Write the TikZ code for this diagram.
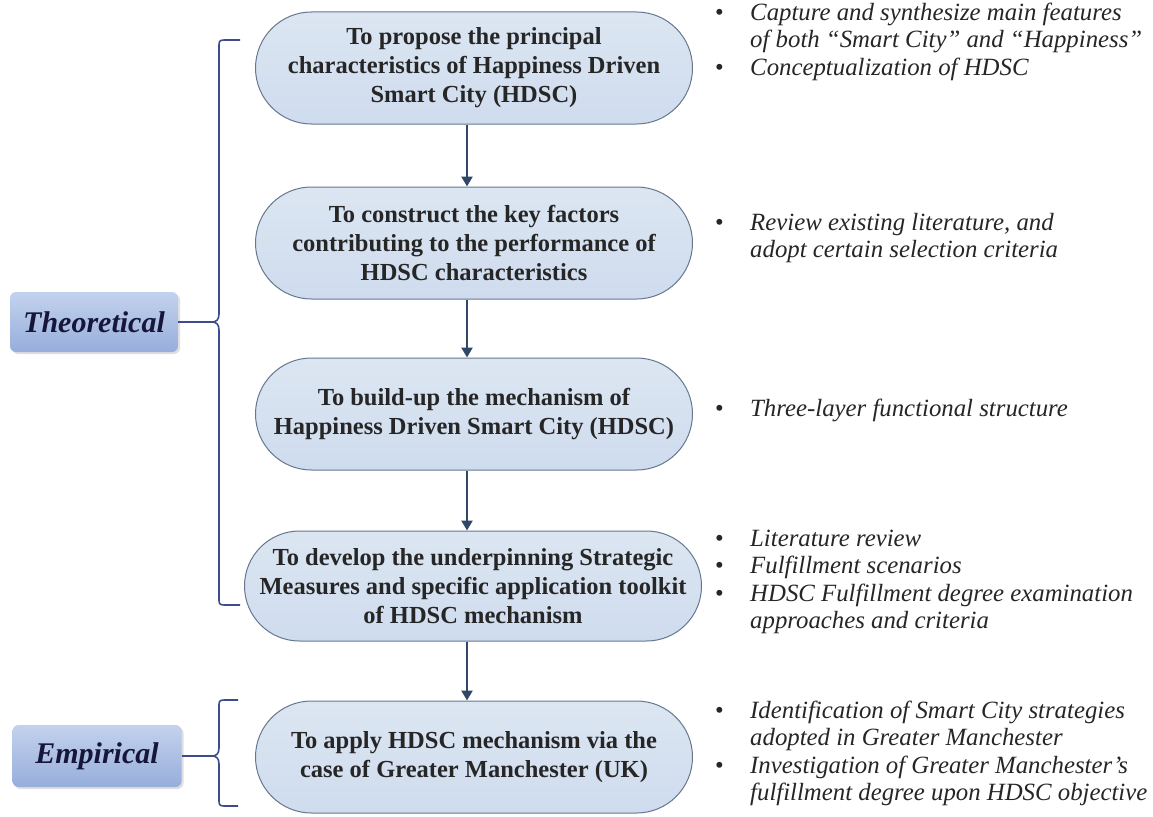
\documentclass[tikz,border=0pt]{standalone}
\usepackage{fontspec}
\setmainfont{Liberation Serif}
\usetikzlibrary{shapes.misc,arrows.meta,shadows,calc}
\definecolor{nodefill}{HTML}{DCE6F2}
\definecolor{nodefillb}{HTML}{CFDCEE}
\definecolor{nodeedge}{HTML}{65788F}
\definecolor{arrowc}{HTML}{2F4868}
\definecolor{bracec}{HTML}{3E4C8E}
\definecolor{boxtop}{HTML}{C3D2EE}
\definecolor{boxbot}{HTML}{97AEDB}
\definecolor{labc}{HTML}{15163A}
\begin{document}
\begin{tikzpicture}[x=1pt,y=-1pt,
  goal/.style={rounded rectangle, draw=nodeedge, line width=1pt, top color=nodefill, bottom color=nodefillb,
    minimum width=437pt, minimum height=112pt, inner sep=0pt, align=center,
    font=\fontsize{24.5}{29}\selectfont\bfseries, text=black!85},
  phase/.style={rounded corners=6pt, top color=boxtop, bottom color=boxbot, inner sep=0pt,
    drop shadow={opacity=0.25, shadow xshift=2pt, shadow yshift=-2pt},
    font=\fontsize{30}{32}\selectfont\bfseries\itshape, text=labc},
  flow/.style={draw=arrowc, line width=2.5pt, -{Triangle[length=10pt,width=11pt]}},
  brace/.style={draw=bracec, line width=1.6pt},
  notes/.style={anchor=north west, inner sep=0pt, align=left, font=\fontsize{24.8}{27.3}\selectfont\itshape, text=black!85}
]
\useasboundingbox (0,0) rectangle (1153,816);
\fill[white] (0,0) rectangle (1153,816);

% goal nodes
\node[goal] (n1) at (474,68) {To propose the principal\\characteristics of Happiness Driven\\Smart City (HDSC)};
\node[goal] (n2) at (474,243) {To construct the key factors\\contributing to the performance of\\HDSC characteristics};
\node[goal] (n3) at (474,414) {To build-up the mechanism of\\Happiness Driven Smart City (HDSC)};
\node[goal, minimum width=457pt, minimum height=110pt] (n4) at (473,586) {To develop the underpinning Strategic\\Measures and specific application toolkit\\of HDSC mechanism};
\node[goal] (n5) at (474,757) {To apply HDSC mechanism via the\\case of Greater Manchester (UK)};

% arrows
\coordinate (ax) at (467,0);
\draw[flow] (n1.south -| ax) -- (n2.north -| ax);
\draw[flow] (n2.south -| ax) -- (n3.north -| ax);
\draw[flow] (n3.south -| ax) -- (n4.north -| ax);
\draw[flow] (n4.south -| ax) -- (n5.north -| ax);

% phase labels
\node[phase, minimum width=168pt, minimum height=60pt] (th) at (94,322) {Theoretical};
\node[phase, minimum width=169pt, minimum height=62pt] (em) at (97,756) {Empirical};

% braces
\coordinate (tcusp) at (212,322);
\coordinate (ttop) at (240,40);
\coordinate (tbot) at (240,605);
\draw[brace] (th.east) -- (tcusp);
\draw[brace] (ttop) -- (224,40) .. controls (219,40) and (219,42) .. (219,46) -- (219,314)
  .. controls (219,320) and (216,322) .. (tcusp)
  .. controls (216,322) and (219,324) .. (219,330) -- (219,599)
  .. controls (219,603) and (219,605) .. (224,605) -- (tbot);
\coordinate (ecusp) at (212,756);
\coordinate (etop) at (238,700);
\coordinate (ebot) at (238,806);
\draw[brace] (em.east) -- (ecusp);
\draw[brace] (etop) -- (224,700) .. controls (219,700) and (219,702) .. (219,706) -- (219,748)
  .. controls (219,754) and (216,756) .. (ecusp)
  .. controls (216,756) and (219,758) .. (219,764) -- (219,800)
  .. controls (219,804) and (219,806) .. (224,806) -- (ebot);

% notes
\newcommand{\blt}{\makebox[35pt][l]{\upshape\textbullet}}
\newcommand{\ind}{\hspace*{35pt}}
\node[notes] (t1) at (715,3) {\blt Capture and synthesize main features\\\ind of both ``Smart City'' and ``Happiness''\\\blt Conceptualization of HDSC};
\node[notes] (t2) at (715,213) {\blt Review existing literature, and\\\ind adopt certain selection criteria};
\node[notes] (t3) at (715,399) {\blt Three-layer functional structure};
\node[notes] (t4) at (715,530) {\blt Literature review\\\blt Fulfillment scenarios\\\blt HDSC Fulfillment degree examination\\\ind approaches and criteria};
\node[notes] (t5) at (715,701) {\blt Identification of Smart City strategies\\\ind adopted in Greater Manchester\\\blt Investigation of Greater Manchester's\\\ind fulfillment degree upon HDSC objective};
\end{tikzpicture}
\end{document}
